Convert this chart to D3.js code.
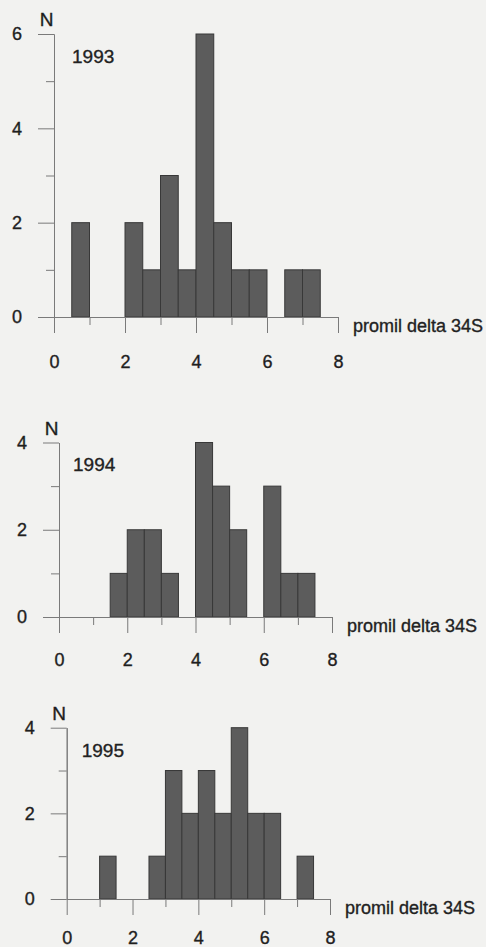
<!DOCTYPE html>
<html>
<head>
<meta charset="utf-8">
<script src="https://cdn.jsdelivr.net/npm/d3@7"></script>
<style>
  body { margin: 0; background: #f2f2f0; }
  svg { display: block; font-family: "Liberation Sans", Arial, sans-serif; }
  svg text { stroke: #222; stroke-width: 0.35px; }
  .axis path, .axis line { stroke: #7a7a7a; }
  .axis text { fill: #1e1e1e; font-size: 18px; }
</style>
</head>
<body>
<div id="chart"></div>
<script>
// histogram data: left edge of each 0.5-wide bin and its count
var years = ["1993", "1994", "1995"];
var bins1993 = [0.5, 2, 2.5, 3, 3.5, 4, 4.5, 5, 5.5, 6.5, 7];
var counts1993 = [2, 2, 1, 3, 1, 6, 2, 1, 1, 1, 1];
var bins1994 = [1.5, 2, 2.5, 3, 4, 4.5, 5, 6, 6.5, 7];
var counts1994 = [1, 2, 2, 1, 4, 3, 2, 3, 1, 1];
var bins1995 = [1, 2.5, 3, 3.5, 4, 4.5, 5, 5.5, 6, 7];
var counts1995 = [1, 1, 3, 2, 3, 2, 4, 2, 2, 1];
var binWidth = 0.5;
var xTicks = [0, 2, 4, 6, 8];
var xMinor = [1, 3, 5, 7];
var yMax = [6, 4, 4];
var xTitle = "promil delta 34S";

var allBins = [bins1993, bins1994, bins1995];
var allCounts = [counts1993, counts1994, counts1995];

// where each panel sits on the page
var panels = [
    {x0: 54, x1: 338, y0: 317, y1: 34, labPad: 22, yearDx: 18},
    {x0: 59, x1: 332, y0: 617, y1: 442.5, labPad: 20, yearDx: 14},
    {x0: 66.7, x1: 330, y0: 899, y1: 727.7, labPad: 16, yearDx: 15}
];

var svg = d3.select("#chart").append("svg")
    .attr("width", 486)
    .attr("height", 947);

panels.forEach(function(p, i) {
    var x = d3.scaleLinear().domain([0, 8]).range([p.x0, p.x1]);
    var y = d3.scaleLinear().domain([0, yMax[i]]).range([p.y0, p.y1]);
    var g = svg.append("g");

    var data = allBins[i].map(function(b, j) { return {b: b, n: allCounts[i][j]}; });

    g.selectAll("rect")
        .data(data)
        .enter()
        .append("rect")
        .attr("x", function(d) { return x(d.b); })
        .attr("width", function(d) { return x(d.b + binWidth) - x(d.b); })
        .attr("y", function(d) { return y(d.n); })
        .attr("height", function(d) { return y(0) - y(d.n); })
        .style("fill", "#5c5c5c")
        .style("stroke", "#383838")
        .style("stroke-width", 1);

    var yMajor = d3.range(0, yMax[i] + 1, 2);
    var yMinorT = d3.range(1, yMax[i], 2);

    g.append("g").attr("class", "axis")
        .attr("transform", "translate(" + p.x0 + ",0)")
        .call(d3.axisLeft(y).tickValues(yMajor).tickSize(16).tickSizeOuter(0).tickPadding(16).tickFormat(d3.format("d")));
    g.append("g").attr("class", "axis")
        .attr("transform", "translate(" + p.x0 + ",0)")
        .call(d3.axisLeft(y).tickValues(yMinorT).tickSize(8).tickSizeOuter(0).tickFormat(""));

    g.append("g").attr("class", "axis")
        .attr("transform", "translate(0," + p.y0 + ")")
        .call(d3.axisBottom(x).tickValues(xTicks).tickSize(16).tickSizeOuter(0).tickPadding(p.labPad).tickFormat(d3.format("d")));
    g.append("g").attr("class", "axis")
        .attr("transform", "translate(0," + p.y0 + ")")
        .call(d3.axisBottom(x).tickValues(xMinor).tickSize(8).tickSizeOuter(0).tickFormat(""));

    g.append("text")
        .attr("x", p.x0 - 7.5)
        .attr("y", y(yMax[i]) - 14.5)
        .attr("dy", "0.36em")
        .attr("text-anchor", "middle")
        .style("font-size", "19px")
        .style("fill", "#1c1c1c")
        .text("N");

    g.append("text")
        .attr("x", p.x0 + p.yearDx)
        .attr("y", y(yMax[i]) + 22)
        .attr("dy", "0.36em")
        .style("font-size", "19px")
        .style("fill", "#222")
        .text(years[i]);

    g.append("text")
        .attr("x", x(8) + 15)
        .attr("y", y(0) + 9)
        .attr("dy", "0.36em")
        .style("font-size", "18px")
        .style("fill", "#222")
        .text(xTitle);
});
</script>
</body>
</html>
